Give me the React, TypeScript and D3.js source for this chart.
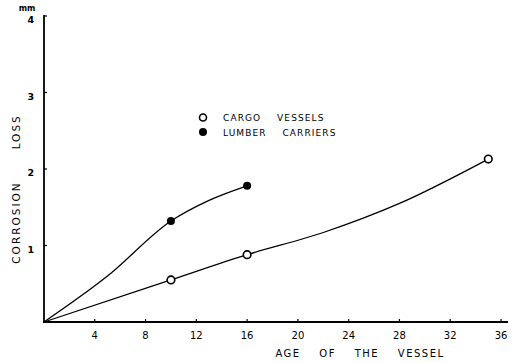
import React from "react";
import * as d3 from "d3";

// plotted markers
const cargoAge = [10, 16, 35];
const cargoLoss = [0.55, 0.88, 2.13];
const lumberAge = [10, 16];
const lumberLoss = [1.32, 1.78];
// hand-drawn curves
const cargoCurveAge = [0, 10, 16, 22, 28, 35];
const cargoCurveLoss = [0, 0.55, 0.88, 1.17, 1.55, 2.13];
const lumberCurveAge = [0, 5, 10, 13, 16];
const lumberCurveLoss = [0, 0.6, 1.32, 1.59, 1.78];
const xTicks = [4, 8, 12, 16, 20, 24, 28, 32, 36];
const yTicks = [1, 2, 3, 4];
const legendLabels = ["CARGO    VESSELS", "LUMBER    CARRIERS"];

const W = 513;
const H = 363;

export default function App() {
  const x = d3.scaleLinear().domain([0, 36]).range([44, 501]);
  const y = d3.scaleLinear().domain([0, 4]).range([322, 16]);
  const line = d3
    .line<[number, number]>()
    .x((d) => x(d[0]))
    .y((d) => y(d[1]))
    .curve(d3.curveMonotoneX);
  const cargoCurve: [number, number][] = cargoCurveAge.map((a, i) => [a, cargoCurveLoss[i]]);
  const lumberCurve: [number, number][] = lumberCurveAge.map((a, i) => [a, lumberCurveLoss[i]]);
  const font = "'DejaVu Sans', sans-serif";
  return (
    <svg
      width={W}
      height={H}
      style={{ position: "absolute", left: 0, top: 0, background: "#fff" }}
      fontFamily={font}
    >
      <rect width={W} height={H} fill="#fff" />
      {/* axes */}
      <line x1={x(0)} x2={x(0)} y1={y(0) + 1} y2={y(4) - 1} stroke="#000" strokeWidth={1.8} />
      <line x1={x(0) - 1} x2={508} y1={y(0)} y2={y(0)} stroke="#000" strokeWidth={1.8} />
      {yTicks.map((t) => (
        <g key={"y" + t}>
          <line x1={x(0)} x2={x(0) + 3} y1={y(t)} y2={y(t)} stroke="#000" strokeWidth={1.2} />
          <text x={34} y={y(t) + 7} fontSize={9.5} fontWeight="bold" textAnchor="end">
            {t}
          </text>
        </g>
      ))}
      <text x={27} y={11} fontSize={8} fontWeight="bold" textAnchor="middle">
        mm
      </text>
      {xTicks.map((t) => (
        <g key={"x" + t}>
          <line x1={x(t)} x2={x(t)} y1={y(0)} y2={y(0) - 3} stroke="#000" strokeWidth={1.2} />
          <text x={x(t)} y={339} fontSize={10} textAnchor="middle">
            {t}
          </text>
        </g>
      ))}
      <text
        x={360}
        y={357}
        fontSize={10}
        textAnchor="middle"
        letterSpacing={1.5}
        style={{ whiteSpace: "pre" }}
      >
        AGE    OF    THE    VESSEL
      </text>
      <text
        transform={`translate(20,189) rotate(-90)`}
        fontSize={10.5}
        textAnchor="middle"
        letterSpacing={2}
        style={{ whiteSpace: "pre" }}
      >
        CORROSION      LOSS
      </text>
      {/* lines */}
      <path d={line(cargoCurve) || ""} fill="none" stroke="#000" strokeWidth={1.3} />
      <path d={line(lumberCurve) || ""} fill="none" stroke="#000" strokeWidth={1.3} />
      {cargoAge.map((a, i) => (
        <circle key={"c" + i} cx={x(a)} cy={y(cargoLoss[i])} r={3.8} fill="#fff" stroke="#000" strokeWidth={1.6} />
      ))}
      {lumberAge.map((a, i) => (
        <circle key={"l" + i} cx={x(a)} cy={y(lumberLoss[i])} r={4} fill="#000" />
      ))}
      {/* legend */}
      <circle cx={203} cy={117.5} r={3.5} fill="#fff" stroke="#000" strokeWidth={1.6} />
      <circle cx={203} cy={132} r={4} fill="#000" />
      <text x={223} y={121} fontSize={9} letterSpacing={1.1} style={{ whiteSpace: "pre" }}>
        {legendLabels[0]}
      </text>
      <text x={223} y={136} fontSize={9} letterSpacing={1.1} style={{ whiteSpace: "pre" }}>
        {legendLabels[1]}
      </text>
    </svg>
  );
}
